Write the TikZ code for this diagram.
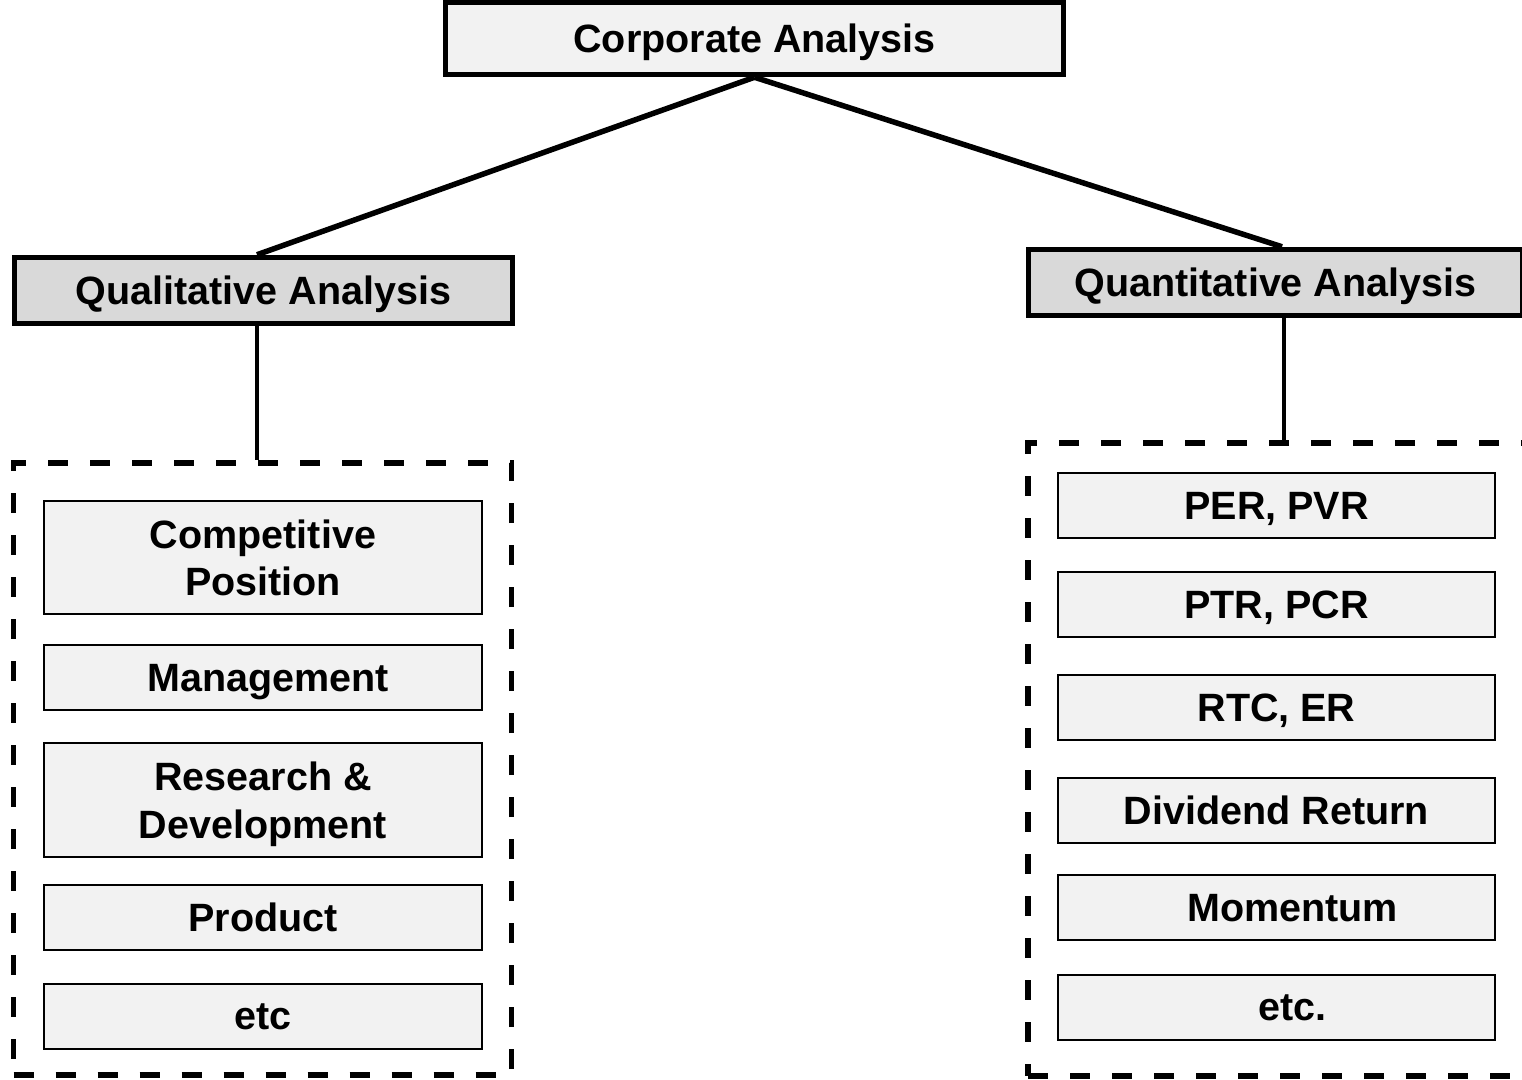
\documentclass[tikz,border=0pt]{standalone}
\usepackage{fontspec}
\setmainfont{Liberation Sans}
\definecolor{lightfill}{HTML}{F2F2F2}
\definecolor{midfill}{HTML}{D9D9D9}
\begin{document}
\begin{tikzpicture}[x=1pt,y=-1pt,
  every node/.style={font=\fontsize{39.5}{47.5}\selectfont\bfseries, inner sep=0pt, align=center, text depth=0pt},
  topbox/.style={draw, line width=5.5pt, fill=lightfill, minimum width=618pt, minimum height=72pt},
  catbox/.style={draw, line width=5.5pt, fill=midfill, minimum height=66pt},
  itembox/.style={draw, line width=1.8pt, fill=lightfill, minimum width=438pt},
  groupbox/.style={draw, line width=5.5pt, dash pattern=on 20pt off 22pt},
  link/.style={line width=5.5pt},
  vlink/.style={line width=4.5pt}]
\useasboundingbox (0,0) rectangle (1522,1079);
\clip (0,0) rectangle (1522,1079);

\node[topbox] (top) at (754.5,38.5) {Corporate Analysis};
\node[catbox, minimum width=498pt] (qual) at (263.5,290.5) {Qualitative Analysis};
\node[catbox, minimum width=494pt] (quant) at (1275.5,282.5) {Quantitative Analysis};

\node[groupbox, minimum width=498pt, minimum height=612pt] (lgroup) at (262.5,769) {};
\node[groupbox, minimum width=507pt, minimum height=633pt] (rgroup) at (1281.5,759.5) {};

% left items
\node[itembox, minimum height=113pt] (comp) at (263,557.5) {Competitive\\Position};
\node[itembox, minimum height=65pt] (mgmt) at (263,677.5) {\hspace*{10pt}Management};
\node[itembox, minimum height=114pt] (rnd) at (263,800) {Research \&\\Development};
\node[itembox, minimum height=65pt] (prod) at (263,917.5) {Product};
\node[itembox, minimum height=65pt] (etcl) at (263,1016.5) {etc};

% right items
\node[itembox, minimum width=437pt, minimum height=65pt] (per) at (1276.5,505.5) {PER, PVR};
\node[itembox, minimum width=437pt, minimum height=65pt] (ptr) at (1276.5,604.5) {PTR, PCR};
\node[itembox, minimum width=437pt, minimum height=65pt] (rtc) at (1276.5,707.5) {RTC, ER};
\node[itembox, minimum width=437pt, minimum height=65pt] (div) at (1276.5,810.5) {Dividend Return};
\node[itembox, minimum width=437pt, minimum height=65pt] (mom) at (1276.5,907.5) {\hspace*{32pt}Momentum};
\node[itembox, minimum width=437pt, minimum height=65pt] (etcr) at (1276.5,1007.5) {\hspace*{32pt}etc.};

% connectors
\draw[link] (top.south) -- ([xshift=-6.5pt]qual.north);
\draw[link] (top.south) -- ([xshift=6.5pt]quant.north);
\draw[vlink] ([xshift=-6.5pt]qual.south) -- ([xshift=-5.5pt]lgroup.north);
\draw[vlink] ([xshift=8.5pt]quant.south) -- ([xshift=8.5pt]quant.south |- rgroup.north);
\end{tikzpicture}
\end{document}
